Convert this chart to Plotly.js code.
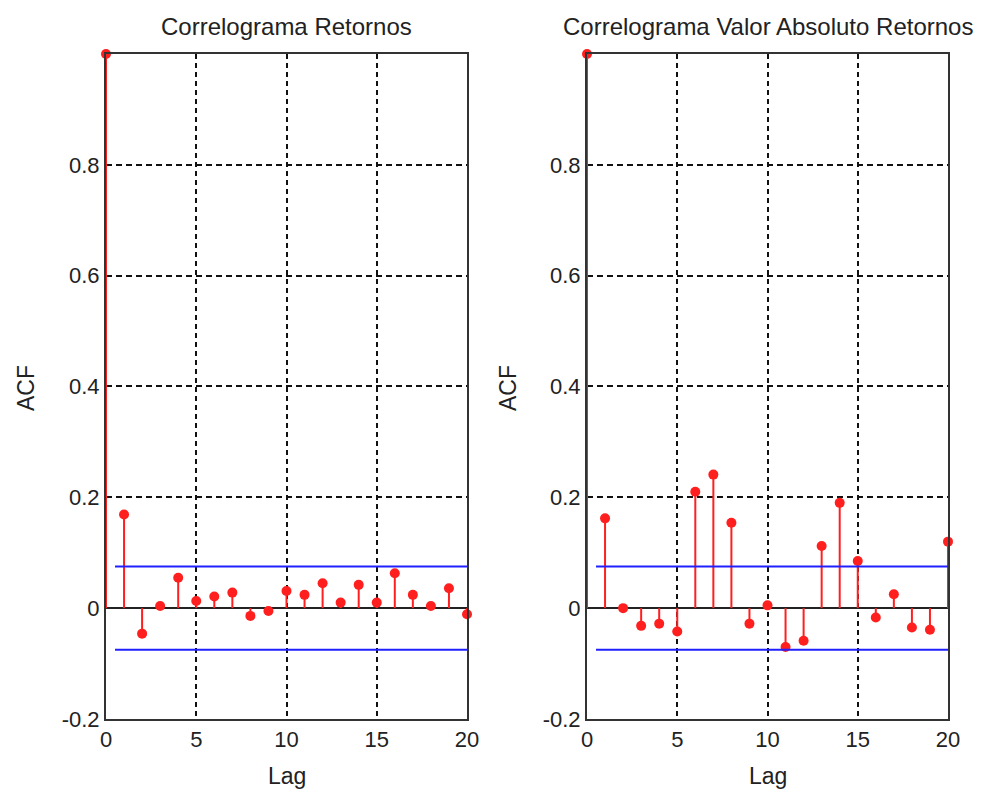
<!DOCTYPE html>
<html>
<head>
<meta charset="utf-8">
<script src="https://cdn.plot.ly/plotly-3.0.1.min.js"></script>
<style>html,body{margin:0;padding:0;background:#fff;}#chart{width:988px;height:794px;}</style>
</head>
<body>
<div id="chart"></div>
<script>
// ---- Data ----
const lags = [0,1,2,3,4,5,6,7,8,9,10,11,12,13,14,15,16,17,18,19,20];
const acfRetornos = [1.000, 0.169, -0.046, 0.004, 0.055, 0.013, 0.021, 0.028, -0.014, -0.005, 0.031,
                     0.024, 0.045, 0.010, 0.042, 0.010, 0.063, 0.024, 0.004, 0.036, -0.011];
const acfAbsRetornos = [1.000, 0.162, 0.000, -0.032, -0.028, -0.042, 0.210, 0.241, 0.154, -0.028, 0.005,
                        -0.070, -0.059, 0.112, 0.190, 0.085, -0.017, 0.025, -0.035, -0.039, 0.120];
const boundLags = [0.5, 20];
const upperBound = 0.075;
const lowerBound = -0.075;
const titles = ["Correlograma Retornos", "Correlograma Valor Absoluto Retornos"];
const xTickVals = [0, 5, 10, 15, 20];
const yTickVals = [-0.2, 0, 0.2, 0.4, 0.6, 0.8];
const yTickText = ["-0.2", "0", "0.2", "0.4", "0.6", "0.8"];

const RED = "#ff1f1f", BLUE = "#2020ff";

function stemTraces(vals, xa, ya) {
  const sx = [], sy = [];
  lags.forEach((l, i) => { sx.push(l, l, null); sy.push(0, vals[i], null); });
  return [
    {x: sx, y: sy, mode: "lines", line: {color: RED, width: 2}, xaxis: xa, yaxis: ya, hoverinfo: "skip", cliponaxis: false},
    {x: lags, y: vals, mode: "markers", marker: {color: RED, size: 10}, xaxis: xa, yaxis: ya, cliponaxis: false},
    {x: boundLags, y: [upperBound, upperBound], mode: "lines", line: {color: BLUE, width: 2}, xaxis: xa, yaxis: ya},
    {x: boundLags, y: [lowerBound, lowerBound], mode: "lines", line: {color: BLUE, width: 2}, xaxis: xa, yaxis: ya}
  ];
}

const data = [].concat(stemTraces(acfRetornos, "x", "y"), stemTraces(acfAbsRetornos, "x2", "y2"));

const font = {family: "Liberation Sans, Arial, sans-serif", color: "#222"};
function xax(domain, anchor) {
  return {domain: domain, anchor: anchor, range: [0, 20], tickvals: xTickVals, ticks: "",
    showgrid: true, gridcolor: "#111", gridwidth: 2, griddash: "5px,4px",
    showline: true, mirror: true, linecolor: "#333", linewidth: 2, zeroline: false,
    tickfont: {family: font.family, color: font.color, size: 22}, fixedrange: true};
}
function yax(anchor) {
  return {domain: [0.0945, 0.932], anchor: anchor, range: [-0.2, 1], tickvals: yTickVals, ticktext: yTickText, ticks: "",
    showgrid: true, gridcolor: "#111", gridwidth: 2, griddash: "6px,4px",
    showline: true, mirror: true, linecolor: "#333", linewidth: 2,
    zeroline: true, zerolinecolor: "#222", zerolinewidth: 2,
    tickfont: {family: font.family, color: font.color, size: 22}, fixedrange: true};
}

const leftDom = [106/988, 467/988], rightDom = [587/988, 948/988];
const ann = (text, x, y, size, angle) => ({text: text, x: x, y: y, xref: "paper", yref: "paper",
  showarrow: false, xanchor: "center", yanchor: "middle", textangle: angle || 0,
  font: {family: font.family, color: font.color, size: size}});

const layout = {
  width: 988, height: 794, margin: {l: 0, r: 0, t: 0, b: 0},
  paper_bgcolor: "#fff", plot_bgcolor: "#fff", showlegend: false,
  xaxis: xax(leftDom, "y"), yaxis: yax("x"),
  xaxis2: xax(rightDom, "y2"), yaxis2: yax("x2"),
  annotations: [
    ann(titles[0], (leftDom[0]+leftDom[1])/2, 1 - 26/794, 24),
    ann(titles[1], (rightDom[0]+rightDom[1])/2, 1 - 26/794, 24),
    ann("Lag", (leftDom[0]+leftDom[1])/2, 1 - 776/794, 23),
    ann("Lag", (rightDom[0]+rightDom[1])/2, 1 - 776/794, 23),
    ann("ACF", 26/988, 1 - 388/794, 23, -90),
    ann("ACF", 508/988, 1 - 388/794, 23, -90)
  ]
};

Plotly.newPlot("chart", data, layout, {staticPlot: true, displayModeBar: false});
</script>
</body>
</html>
